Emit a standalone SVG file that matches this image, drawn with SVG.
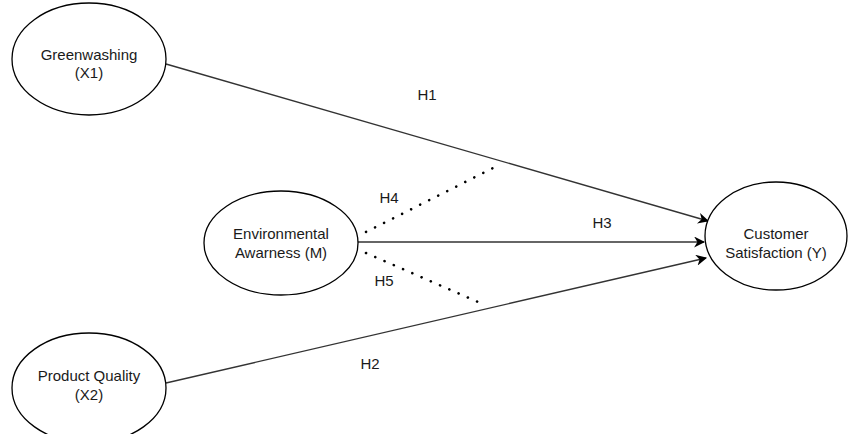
<svg xmlns="http://www.w3.org/2000/svg" width="849" height="434" viewBox="0 0 849 434">
<style>
.n{fill:#fff;stroke:#000;stroke-width:1.3}
text{font-family:"Liberation Sans",Arial,sans-serif;font-size:15px;fill:#1a1a1a;text-anchor:middle}
.c{stroke:#333;stroke-width:1.4;fill:none}
.d{stroke:#000;stroke-width:2.6;stroke-dasharray:0.1 10;stroke-linecap:round;fill:none}
</style>
<defs>
<marker id="a" viewBox="0 0 10 10" refX="9" refY="5" markerWidth="11" markerHeight="11" markerUnits="userSpaceOnUse" orient="auto">
<path d="M0,0 L10,5 L0,10 L3,5 Z" fill="#000"/>
</marker>
</defs>
<g id="connectors">
<line class="c" x1="166" y1="64" x2="708" y2="221" marker-end="url(#a)"/>
<line class="c" x1="358" y1="242" x2="704" y2="242" marker-end="url(#a)"/>
<line class="c" x1="166" y1="383" x2="706" y2="258" marker-end="url(#a)"/>
<line class="d" x1="366" y1="232" x2="497" y2="166"/>
<line class="d" x1="366" y1="253" x2="485" y2="305"/>
<text x="427" y="100">H1</text>
<text x="389" y="203">H4</text>
<text x="602" y="228">H3</text>
<text x="384" y="286">H5</text>
<text x="370" y="369">H2</text>
</g>
<g id="greenwashing">
<ellipse class="n" cx="89" cy="59" rx="77" ry="56"/>
<text x="89" y="60">Greenwashing</text>
<text x="89" y="78">(X1)</text>
</g>
<g id="environmental">
<ellipse class="n" cx="281" cy="243" rx="77" ry="52"/>
<text x="281" y="239">Environmental</text>
<text x="281" y="258">Awarness (M)</text>
</g>
<g id="customer">
<ellipse class="n" cx="776" cy="236" rx="71" ry="54"/>
<text x="776" y="239">Customer</text>
<text x="776" y="258">Satisfaction (Y)</text>
</g>
<g id="product">
<ellipse class="n" cx="89" cy="388" rx="77" ry="55"/>
<text x="89" y="381">Product Quality</text>
<text x="89" y="400">(X2)</text>
</g>
</svg>
